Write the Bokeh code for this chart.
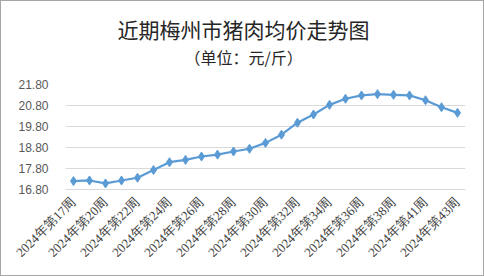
import math
from bokeh.plotting import figure
from bokeh.models import ColumnDataSource, FixedTicker, Range1d, Title
from bokeh.embed import file_html
from bokeh.resources import INLINE

weeks = ["2024年第17周", "2024年第19周", "2024年第20周", "2024年第21周", "2024年第22周",
         "2024年第23周", "2024年第24周", "2024年第25周", "2024年第26周", "2024年第27周",
         "2024年第28周", "2024年第29周", "2024年第30周", "2024年第31周", "2024年第32周",
         "2024年第33周", "2024年第34周", "2024年第35周", "2024年第36周", "2024年第37周",
         "2024年第38周", "2024年第40周", "2024年第41周", "2024年第42周", "2024年第43周"]
prices = [17.20, 17.23, 17.09, 17.23, 17.36, 17.73, 18.10, 18.21, 18.37, 18.46,
          18.61, 18.74, 19.02, 19.41, 19.98, 20.37, 20.83, 21.12, 21.28, 21.34,
          21.31, 21.28, 21.05, 20.72, 20.45]
y_ticks = [16.80, 17.80, 18.80, 19.80, 20.80, 21.80]
title = "近期梅州市猪肉均价走势图"
subtitle = "（单位：元/斤）"

idx = list(range(len(weeks)))
src = ColumnDataSource(dict(x=idx, y=prices, label=weeks))

p = figure(width=484, height=276, output_backend="svg", toolbar_location=None,
           x_range=Range1d(-0.5, len(weeks) - 0.5), y_range=Range1d(16.8, 21.8),
           min_border_left=64, min_border_right=20, min_border_top=83, min_border_bottom=88)
p.outline_line_color = None
p.background_fill_color = "white"
p.border_fill_color = "white"

p.line("x", "y", source=src, line_color="#5B9BD5", line_width=2.2)
p.scatter("x", "y", source=src, marker="diamond", size=9, fill_color="#5B9BD5",
          line_color="#5B9BD5")

shown = idx[::2]
p.xaxis.ticker = FixedTicker(ticks=shown)
p.xaxis.major_label_overrides = {i: weeks[i] for i in shown}
p.xaxis.major_label_orientation = math.pi / 4
p.xaxis.major_tick_line_color = None
p.xaxis.minor_tick_line_color = None
p.xaxis.axis_line_color = "#d9d9d9"
p.xaxis.major_label_text_font = "Liberation Serif"
p.xaxis.major_label_text_font_size = "13px"
p.xaxis.major_label_text_color = "#404040"
p.xaxis.major_label_standoff = 4

p.yaxis.ticker = FixedTicker(ticks=y_ticks)
p.yaxis.major_label_overrides = {v: f"{v:.2f}" for v in y_ticks}
p.yaxis.axis_line_color = None
p.yaxis.major_tick_line_color = None
p.yaxis.minor_tick_line_color = None
p.yaxis.major_label_text_font = "Liberation Sans"
p.yaxis.major_label_text_font_size = "12px"
p.yaxis.major_label_text_color = "#595959"
p.yaxis.major_label_standoff = 11

p.xgrid.grid_line_color = None
p.ygrid.ticker = FixedTicker(ticks=y_ticks)
p.ygrid.grid_line_color = "#d9d9d9"
p.ygrid.grid_line_width = 1

p.title = None
p.add_layout(Title(text=subtitle, align="left", offset=119, vertical_align="top",
                   text_font="Noto Sans CJK SC",
                   text_font_size="16px", text_font_style="normal",
                   text_color="#262626", standoff=27), "above")
p.add_layout(Title(text=title, align="left", offset=52, text_font="Noto Sans CJK SC",
                   text_font_size="21px", text_font_style="normal",
                   text_color="#262626", standoff=-25), "above")

p.styles = {"border": "1.5px solid #a6a6a6", "box-sizing": "border-box"}

open("out.html", "w").write(file_html(p, INLINE))
